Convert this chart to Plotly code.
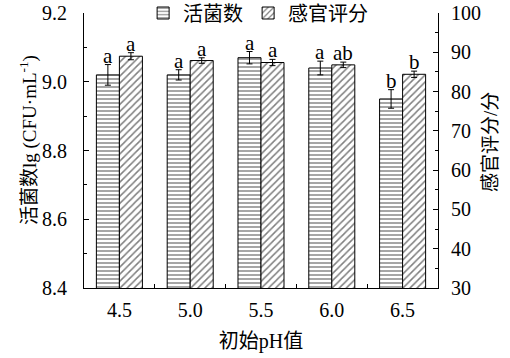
import plotly.graph_objects as go

categories = ["4.5", "5.0", "5.5", "6.0", "6.5"]
viable = [9.02, 9.02, 9.07, 9.04, 8.95]
viable_err = [0.03, 0.015, 0.018, 0.02, 0.027]
sensory = [89.0, 87.9, 87.4, 86.8, 84.4]
sensory_err = [0.9, 0.7, 0.8, 0.7, 0.8]
viable_letters = ["a", "a", "a", "a", "b"]
sensory_letters = ["a", "a", "a", "ab", "b"]

FONT = "Liberation Serif, Times New Roman, Noto Sans CJK SC, serif"
BW = 0.325

fig = go.Figure()
fig.add_trace(go.Bar(
    x=categories, y=viable, name="活菌数", yaxis="y",
    width=BW, offset=-BW,
    marker=dict(color="white", line=dict(color="black", width=1),
                pattern=dict(shape="-", fgcolor="black", bgcolor="white", size=4, solidity=0.35)),
    error_y=dict(type="data", array=viable_err, color="black", thickness=1, width=3),
))
fig.add_trace(go.Bar(
    x=categories, y=sensory, name="感官评分", yaxis="y2",
    width=BW, offset=0,
    marker=dict(color="white", line=dict(color="black", width=1),
                pattern=dict(shape="/", fgcolor="black", bgcolor="white", size=5, solidity=0.3)),
    error_y=dict(type="data", array=sensory_err, color="black", thickness=1, width=3),
))

ann = []
for i, c in enumerate(categories):
    ann.append(dict(x=i - BW / 2, y=viable[i] + viable_err[i], xref="x", yref="y", text=viable_letters[i],
                    showarrow=False, yanchor="bottom", yshift=-5,
                    font=dict(family=FONT, size=21, color="black")))
    ann.append(dict(x=i + BW / 2, y=sensory[i] + sensory_err[i], xref="x", yref="y2", text=sensory_letters[i],
                    showarrow=False, yanchor="bottom", yshift=-5,
                    font=dict(family=FONT, size=21, color="black")))

ann.append(dict(x=28, y=140, xref="paper", yref="paper", text="活菌数lg (CFU·mL<sup>-1</sup>)",
                showarrow=False, textangle=-90, xanchor="center", yanchor="middle",
                font=dict(family=FONT, size=19, color="black")))
ann.append(dict(x=490, y=142, xref="paper", yref="paper", text="感官评分/分",
                showarrow=False, textangle=-90, xanchor="center", yanchor="middle",
                font=dict(family=FONT, size=19, color="black")))

# convert pixel-positioned title annotations to paper coordinates
L, R, T, B = 84, 72, 13, 70
PW, PH = 510 - L - R, 358 - T - B
for a in ann[-2:]:
    a["x"] = (a["x"] - L) / PW
    a["y"] = (358 - B - a["y"]) / PH

fig.update_layout(
    width=510, height=358,
    margin=dict(l=L, r=R, t=T, b=B, autoexpand=False),
    paper_bgcolor="white", plot_bgcolor="white",
    font=dict(family=FONT, size=20, color="black"),
    barmode="overlay",
    showlegend=True,
    legend=dict(orientation="h", x=0.167, xanchor="left", y=1.0, yanchor="middle",
                bgcolor="rgba(0,0,0,0)", font=dict(size=20), itemwidth=30,
                tracegroupgap=0),
    xaxis=dict(type="category", range=[-0.5, 4.5], showline=True, linecolor="black", linewidth=1,
               ticks="inside", tickson="boundaries", ticklen=4, tickcolor="black",
               showgrid=False, zeroline=False, ticklabelstandoff=4, automargin=False,
               title=dict(text="初始pH值", font=dict(size=20), standoff=13)),
    yaxis=dict(range=[8.4, 9.2], dtick=0.2, tickformat=".1f", showline=True, linecolor="black",
               linewidth=1, ticks="inside", ticklen=5, tickcolor="black", showgrid=False,
               zeroline=False, ticklabelstandoff=12, automargin=False,
               minor=dict(dtick=0.1, ticks="inside", ticklen=3, tickcolor="black", showgrid=False)),
    yaxis2=dict(range=[30, 100], dtick=10, overlaying="y", side="right", showline=True,
                linecolor="black", linewidth=1, ticks="inside", ticklen=5, tickcolor="black",
                showgrid=False, zeroline=False, ticklabelstandoff=8, automargin=False,
                minor=dict(dtick=5, ticks="inside", ticklen=3, tickcolor="black", showgrid=False)),
    annotations=ann,
)

fig.write_html("out.html", config={"displayModeBar": False},
               post_script="document.body.style.margin='0';document.body.style.overflow='hidden';")
